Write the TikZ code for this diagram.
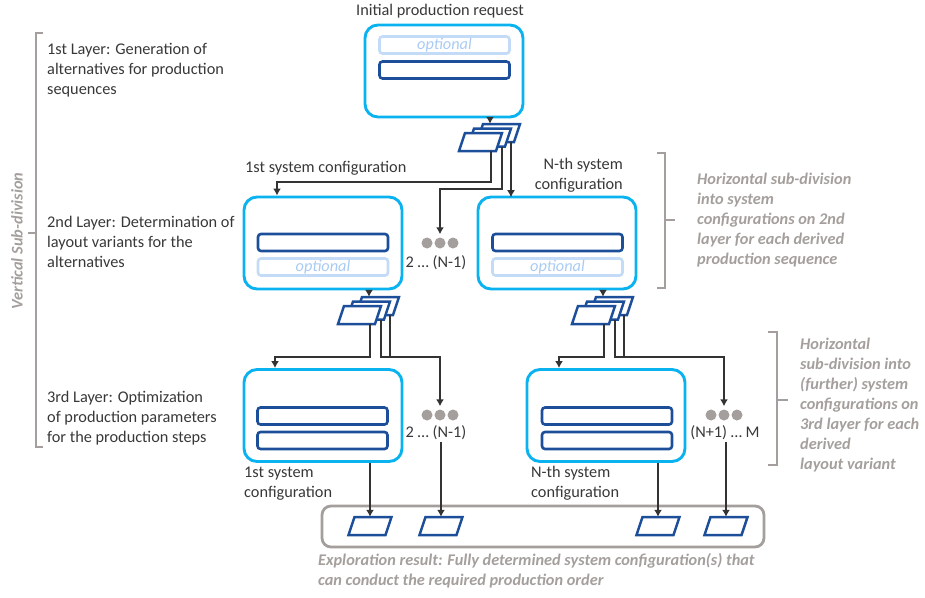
\documentclass[tikz,border=0pt]{standalone}
\usepackage{fontspec}
\setmainfont{Carlito}
\usetikzlibrary{arrows.meta}

\definecolor{cfgcyan}{HTML}{0AB2EF}
\definecolor{seqblue}{HTML}{1C4E9A}
\definecolor{optblue}{HTML}{C3DBF7}
\definecolor{opttext}{HTML}{A9CBF3}
\definecolor{notegray}{HTML}{A49F9C}
\definecolor{txtgray}{HTML}{383838}
\definecolor{wiregray}{HTML}{333333}

\newcommand{\figfont}{\fontsize{16.3}{20}\selectfont}

% one sheet (parallelogram) with its box node: name, centre x, centre y
\newcommand{\seqsheet}[3]{%
  \node[sheetbox] (#1) at (#2,#3) {};
  \draw[sheet] (#2-21.5,#3+9) -- ++(37,0) -- ++(6,-18) -- ++(-37,0) -- cycle;}

\tikzset{
  cfgbox/.style={draw=cfgcyan, line width=2.9pt, rounded corners=13pt,
    minimum width=158pt, minimum height=92pt, inner sep=0pt},
  slot/.style={draw=seqblue, line width=2.6pt, rounded corners=3pt,
    minimum width=130pt, minimum height=17pt, inner sep=0pt},
  optslot/.style={slot, draw=optblue, text=opttext, font=\figfont\itshape},
  sheetbox/.style={minimum width=43pt, minimum height=18pt, inner sep=0pt},
  sheet/.style={draw=seqblue, fill=white, line width=2.5pt},
  wire/.style={draw=wiregray, line width=2.5pt},
  arrowwire/.style={wire, -{Latex[length=7pt,width=8pt]}},
  sidebrace/.style={draw=notegray, line width=2.8pt},
  graynote/.style={text=notegray, font=\figfont\bfseries\itshape, align=left, inner sep=0pt},
  lbl/.style={align=left, inner sep=0pt},
  graydot/.style={circle, fill=notegray, minimum size=11pt, inner sep=0pt},
}

\begin{document}
\begin{tikzpicture}[x=1pt, y=-1pt, font=\figfont, text=txtgray]
  \useasboundingbox (0,0) rectangle (925,597);

  % 1st layer: production request
  \node[lbl, anchor=base] (reqtitle) at (440,15.5) {Initial production request};
  \node[cfgbox] (req) at (444,71) {};
  \node[optslot] (reqopt) at (444.5,45) {optional};
  \node[slot] (reqseq) at (444.5,70) {};

  % 2nd layer: system configurations
  \node[cfgbox] (alt1) at (323,243) {};
  \node[slot] (alt1seq) at (323,242.5) {};
  \node[optslot] (alt1opt) at (323,267) {optional};
  \node[cfgbox] (altN) at (557,243) {};
  \node[slot] (altNseq) at (557.5,242.5) {};
  \node[optslot] (altNopt) at (557.5,267) {optional};

  % 3rd layer: system configurations
  \node[cfgbox] (var1) at (323,415.5) {};
  \node[slot] (var1a) at (322.5,416) {};
  \node[slot] (var1b) at (322.5,440.5) {};
  \node[cfgbox] (varN) at (606,415.5) {};
  \node[slot] (varNa) at (607,416) {};
  \node[slot] (varNb) at (607,440.5) {};

  % stacks of derived sequences / layouts
  \foreach \i/\k in {3/2,2/1,1/0} {
    \seqsheet{reqs\i}{480.5+9*\k}{142-4.5*\k}
    \seqsheet{alts\i}{359.5+9*\k}{315-4.5*\k}
    \seqsheet{altNs\i}{593.5+9*\k}{315-4.5*\k}
  }

  % placeholders for further configurations
  \node[graydot] (ad1) at (427,243) {};
  \node[graydot] (ad2) at (440,243) {};
  \node[graydot] (ad3) at (453,243) {};
  \node[lbl] (alblA) at (436,263) {2 … (N-1)};
  \node[graydot] (vd1) at (427,415) {};
  \node[graydot] (vd2) at (440,415) {};
  \node[graydot] (vd3) at (453,415) {};
  \node[lbl, inner ysep=2pt] (vlblA) at (436,433) {2 … (N-1)};
  \node[graydot] (wd1) at (711,415) {};
  \node[graydot] (wd2) at (724,415) {};
  \node[graydot] (wd3) at (737,415) {};
  \node[lbl, inner ysep=2pt] (vlblB) at (725,433) {(N+1) … M};

  % exploration result
  \node[draw=notegray, line width=2.8pt, rounded corners=9pt,
    minimum width=442pt, minimum height=41pt] (result) at (543,526.5) {};
  \seqsheet{out1}{370}{526}
  \seqsheet{out2}{441}{526}
  \seqsheet{out3}{658}{526}
  \seqsheet{out4}{726}{526}

  % connectors
  \coordinate (reqin) at ([xshift=-8.5pt]reqs3.north);
  \draw[arrowwire] (reqin |- req.south) -- (reqin);
  \draw[arrowwire] ([xshift=10.5pt]reqs1.south) -- ++(0,31) -| ([xshift=-46pt]alt1.north);
  \draw[arrowwire, shorten >=3pt] ([xshift=12.5pt]reqs2.south) -- ++(0,42.5) -| (ad2.north);
  \draw[arrowwire] ([xshift=12.5pt]reqs3.south) -- ++(0,55);

  \coordinate (altin) at ([xshift=-8.5pt]alts3.north);
  \draw[arrowwire] (altin |- alt1.south) -- (altin);
  \draw[arrowwire] ([xshift=10.5pt]alts1.south) -- ++(0,33) -| ([xshift=-48pt]var1.north);
  \draw[arrowwire, shorten >=3pt] ([xshift=12.5pt]alts2.south) -- ++(0,37.5) -| (vd2.north);
  \draw[wire] ([xshift=12.5pt]alts3.south) -- ++(0,42);

  \coordinate (altNin) at ([xshift=-8.5pt]altNs3.north);
  \draw[arrowwire] (altNin |- altN.south) -- (altNin);
  \draw[arrowwire] ([xshift=10.5pt]altNs1.south) -- ++(0,33) -| ([xshift=-47pt]varN.north);
  \draw[arrowwire, shorten >=3pt] ([xshift=12.5pt]altNs2.south) -- ++(0,37.5) -| (wd2.north);
  \draw[wire] ([xshift=12.5pt]altNs3.south) -- ++(0,42);

  \draw[arrowwire] (out1.north |- var1.south) -- (out1.north);
  \draw[arrowwire] (out2.north |- vlblA.south) -- (out2.north);
  \draw[arrowwire] (out3.north |- varN.south) -- (out3.north);
  \draw[arrowwire] (out4.north |- vlblB.south) -- (out4.north);

  % configuration labels
  \node[lbl, anchor=base west] (cfg1top) at (245,172) {1st system configuration};
  \node[lbl, anchor=east, align=right] (cfgNtop) at (623,175) {N-th system\\configuration};
  \node[lbl, anchor=west] (cfg1bot) at (244,483.5) {1st system\\configuration};
  \node[lbl, anchor=west] (cfgNbot) at (531,483.5) {N-th system\\configuration};

  % layers
  \node[lbl, anchor=west] (layer1) at (47,70.5) {1st Layer: Generation of\\alternatives for production\\sequences};
  \node[lbl, anchor=west] (layer2) at (47,242) {2nd Layer: Determination of\\layout variants for the\\alternatives};
  \node[lbl, anchor=west] (layer3) at (47,418) {3rd Layer: Optimization\\of production parameters\\for the production steps};

  % sub-division braces
  \draw[sidebrace] (43,33) -- (36,33) -- (36,447) -- (43,447) (36,233) -- (28,233);
  \node[graynote, rotate=90] (vnote) at (17,241) {Vertical Sub-division};
  \draw[sidebrace] (657,153) -- (665,153) -- (665,288) -- (657,288) (665,220) -- (675,220);
  \node[graynote, anchor=west] (hnote2) at (697,220) {Horizontal sub-division\\into system\\configurations on 2nd\\layer for each derived\\production sequence};
  \draw[sidebrace] (768,332) -- (777,332) -- (777,465) -- (768,465) (777,400) -- (788,400);
  \node[graynote, anchor=west] (hnote3) at (800,405) {Horizontal\\sub-division into\\(further) system\\configurations on\\3rd layer for each\\derived\\layout variant};
  \node[graynote, anchor=west] (resnote) at (318,571) {Exploration result: Fully determined system configuration(s) that\\can conduct the required production order};
\end{tikzpicture}
\end{document}
